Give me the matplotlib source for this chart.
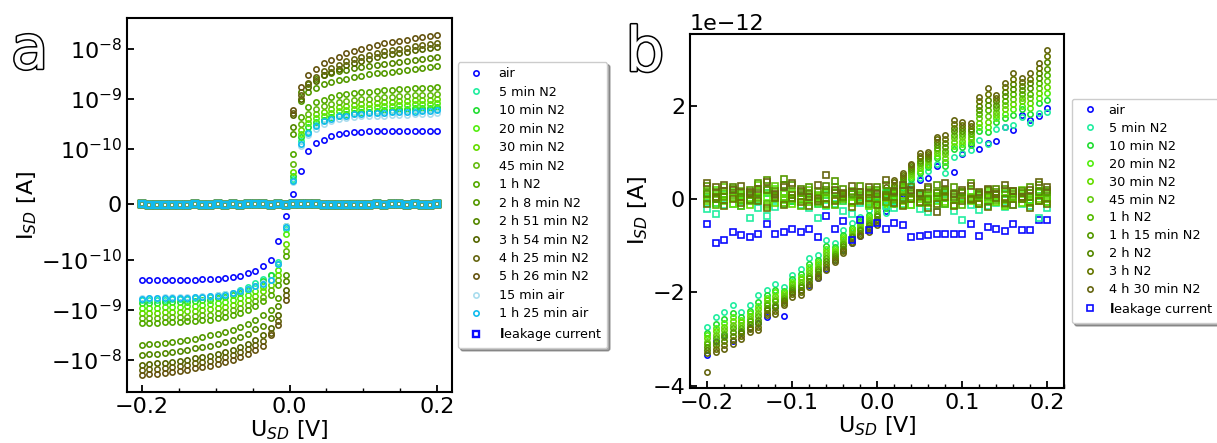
import numpy as np
import matplotlib
matplotlib.use("Agg")
import matplotlib.pyplot as plt
from matplotlib.ticker import AutoMinorLocator, MultipleLocator
import matplotlib.patheffects as pe

# ---------------- panel a : log-ish I-V, values in 1e-10 A ----------------
u_a = np.linspace(-0.2, 0.2, 40)

labels_a = ["air", "5 min N2", "10 min N2", "20 min N2", "30 min N2", "45 min N2", "1 h N2",
            "2 h 8 min N2", "2 h 51 min N2", "3 h 54 min N2", "4 h 25 min N2", "5 h 26 min N2",
            "15 min air", "1 h 25 min air"]
colors_a = ["#0a0aff", "#22eea0", "#22dd33", "#55ee11", "#66dd00", "#66bb11", "#55aa00",
            "#559900", "#558800", "#556600", "#666611", "#665511", "#aaddee", "#11bbee"]

air_a = [-2.5, -2.58, -2.58, -2.58, -2.55, -2.55, -2.5, -2.5, -2.47, -2.43, -2.39, -2.32, -2.22, -2.08, -1.89, -1.65, -1.35, -1.02, -0.66, -0.22,
         0.19, 0.59, 0.95, 1.28, 1.52, 1.77, 1.92, 2.08, 2.14, 2.2, 2.23, 2.27, 2.27, 2.28, 2.28, 2.29, 2.29, 2.3, 2.3, 2.3]
n2_5min_a = [-6.5, -6.45, -6.4, -6.3, -6.25, -6.2, -6.05, -5.85, -5.7, -5.5, -5.2, -4.9, -4.55, -4.0, -3.5, -3.0, -2.4, -2.0, -1.1, -0.45,
             0.45, 1.4, 2.2, 3.0, 3.8, 4.3, 4.7, 4.9, 5.2, 5.3, 5.5, 5.5, 5.6, 5.7, 5.8, 5.8, 5.9, 6.0, 6.1, 6.2]
n2_10min_a = [-7.4, -7.3, -7.25, -7.2, -7.1, -7.0, -6.9, -6.65, -6.5, -6.3, -5.9, -5.55, -5.2, -4.6, -4.0, -3.4, -2.7, -2.0, -1.25, -0.39,
              0.5, 1.7, 2.7, 3.35, 3.8, 4.3, 4.6, 4.9, 5.2, 5.4, 5.5, 5.7, 5.8, 6.0, 6.1, 6.2, 6.4, 6.5, 6.6, 6.7]
n2_20min_a = [-9.3, -9.2, -9.1, -9.0, -8.9, -8.8, -8.65, -8.4, -8.2, -7.9, -7.45, -7.0, -6.5, -5.8, -5.0, -4.3, -3.45, -2.5, -1.6, -0.54,
              0.42, 2.0, 3.2, 4.05, 4.6, 5.2, 5.6, 5.9, 6.2, 6.5, 6.6, 6.9, 7.0, 7.2, 7.4, 7.5, 7.7, 7.9, 7.95, 8.1]
n2_30min_a = [-11.7, -11.6, -11.5, -11.35, -11.2, -11.1, -10.9, -10.5, -10.3, -9.95, -9.35, -8.8, -8.2, -7.25, -6.3, -5.4, -4.3, -3.15, -2.0, -0.72,
              0.57, 2.4, 3.9, 4.85, 5.5, 6.2, 6.7, 7.1, 7.5, 7.8, 7.95, 8.2, 8.4, 8.6, 8.8, 9.0, 9.2, 9.4, 9.5, 9.7]
n2_45min_a = [-14.8, -14.6, -14.5, -14.35, -14.2, -14.1, -13.8, -13.3, -13.0, -12.6, -11.8, -11.1, -10.4, -9.2, -8.0, -6.8, -5.5, -4.0, -2.5, -0.85,
              0.73, 3.05, 4.9, 6.1, 7.0, 7.8, 8.4, 8.9, 9.4, 9.8, 10.0, 10.4, 10.6, 10.9, 11.1, 11.3, 11.6, 11.8, 12.0, 12.2]
n2_1h_a = [-18.6, -18.4, -18.2, -18.0, -17.9, -17.7, -17.3, -16.7, -16.4, -15.8, -14.9, -14.0, -13.0, -11.5, -10.0, -8.6, -6.8, -5.0, -3.15, -0.94,
           0.91, 4.2, 6.8, 8.5, 9.6, 10.8, 11.7, 12.3, 13.0, 13.5, 13.9, 14.4, 14.7, 15.0, 15.4, 15.7, 16.1, 16.4, 16.6, 16.9]
n2_2h8_a = [-51, -49.5, -48, -46, -44, -42, -40, -38, -35, -33, -30.5, -28, -25.5, -22.5, -19.5, -16, -13, -10, -5.9, -2.0,
            2.0, 9, 13.5, 16.7, 19.4, 21.6, 23.4, 25.2, 27, 28.8, 30.6, 32, 33.3, 34.7, 36, 37.8, 39.2, 41, 43, 45]
n2_2h51_a = [-81, -78.5, -76, -73, -70, -66.5, -63, -60, -56, -52.5, -48.5, -44.5, -40.5, -35.5, -30.5, -25, -21, -15, -8.5, -2.7,
             2.65, 13.6, 20, 25, 29.5, 32.6, 35.5, 38, 41, 43.5, 46, 48.3, 50.5, 52.5, 55, 57, 59, 62, 64.5, 68]
n2_3h54_a = [-128, -124, -120, -115, -110, -105, -100, -94.5, -88, -83, -77, -70, -64, -56, -48.5, -40, -33, -23, -13, -4.0,
             4.7, 9.7, 17, 22.7, 29.2, 33.5, 40, 46.4, 51.8, 57.2, 62.6, 68, 73.4, 78.8, 83.2, 87.5, 92.9, 97.2, 102.6, 108]
n2_4h25_a = [-162, -157, -152, -146, -139, -133, -126, -120, -112, -105, -97, -89, -81, -71, -61, -50, -42, -29, -17, -5.0,
             5.1, 11.7, 20.4, 27.3, 35.1, 40.3, 48.1, 55.9, 62.4, 68.9, 75.4, 81.9, 88.4, 94.9, 100, 105, 112, 117, 123.5, 130]
n2_5h26_a = [-204, -198, -192, -184, -175, -167, -159, -151, -141, -132, -122, -112, -102, -90, -77, -63, -53, -33, -20, -6.3,
             5.8, 17, 29.6, 40, 51, 59, 69, 81, 90, 99, 110, 119, 128, 138, 145, 152, 162, 170, 178, 188]
air_15min_a = [-5.8, -5.8, -5.75, -5.7, -5.7, -5.65, -5.6, -5.5, -5.4, -5.25, -5.1, -4.9, -4.6, -4.25, -3.8, -3.35, -3.0, -2.5, -1.2, -0.4,
               0.4, 1.15, 1.9, 2.5, 3.1, 3.5, 3.85, 4.05, 4.25, 4.4, 4.5, 4.55, 4.6, 4.7, 4.75, 4.8, 4.85, 4.95, 5.0, 5.1]
air_1h25_a = [-6.0, -5.95, -5.9, -5.9, -5.85, -5.8, -5.75, -5.7, -5.6, -5.4, -5.25, -5.0, -4.65, -4.3, -3.86, -3.41, -3.07, -2.6, -1.25, -0.42,
              0.42, 1.25, 2.08, 2.78, 3.56, 4.0, 4.4, 4.6, 4.85, 5.0, 5.1, 5.15, 5.2, 5.3, 5.4, 5.45, 5.5, 5.6, 5.7, 5.8]

# leakage current, 1e-12 A (shows up as ~0 on the symlog axis)
leak_a = [-0.54, -0.93, -0.88, -0.7, -0.76, -0.81, -0.74, -0.54, -0.74, -0.71, -0.65, -0.71, -0.63, -0.82, -0.36, -0.65, -0.47, -0.88, -0.45, -0.66,
          -0.51, -0.65, -0.51, -0.56, -0.82, -0.78, -0.77, -0.74, -0.74, -0.74, -0.74, -0.54, -0.79, -0.59, -0.65, -0.68, -0.54, -0.66, -0.66, -0.44]

curves_a = [air_a, n2_5min_a, n2_10min_a, n2_20min_a, n2_30min_a, n2_45min_a, n2_1h_a,
            n2_2h8_a, n2_2h51_a, n2_3h54_a, n2_4h25_a, n2_5h26_a, air_15min_a, air_1h25_a]

# ---------------- panel b : linear I-V, values in 1e-12 A ----------------
u_b = np.linspace(-0.2, 0.2, 41)

labels_b = ["air", "5 min N2", "10 min N2", "20 min N2", "30 min N2", "45 min N2", "1 h N2",
            "1 h 15 min N2", "2 h N2", "3 h N2", "4 h 30 min N2"]
colors_b = ["#0a0aff", "#22eea0", "#22dd33", "#55ee11", "#66dd00", "#66cc11", "#55bb00",
            "#559900", "#558800", "#667700", "#666611"]

air_b = [-3.34, -3.04, -2.9, -3.04, -2.85, -2.75, -2.65, -2.52, -2.3, -2.5, -2.0, -1.95, -1.85, -1.69, -1.5, -1.3, -1.1, -0.95, -0.8, -0.6, -0.45,
         -0.25, -0.1, 0.1, 0.3, 0.4, 0.45, 0.7, 0.8, 0.59, 0.96, 1.18, 1.07, 1.2, 1.25, 1.55, 1.48, 1.8, 1.7, 1.77, 1.94]
n2_5min_b = [-2.74, -2.52, -2.41, -2.27, -2.41, -2.27, -2.06, -1.95, -1.81, -1.88, -1.63, -1.49, -1.27, -1.2, -0.88, -0.95, -0.66, -0.52, -0.38, -0.24, 0.05,
             -0.3, -0.05, 0.15, 0.35, 0.45, 0.6, 0.75, 0.55, 0.91, 0.98, 1.05, 1.26, 1.19, 1.51, 1.55, 1.59, 1.75, 1.62, 1.85, 1.87]
n2_10min_b = [-2.86, -2.67, -2.57, -2.44, -2.53, -2.39, -2.21, -2.06, -1.94, -1.96, -1.72, -1.6, -1.39, -1.3, -1.01, -1.03, -0.76, -0.61, -0.46, -0.33, -0.07,
              -0.19, 0.04, 0.23, 0.43, 0.56, 0.68, 0.87, 0.71, 1.07, 1.12, 1.16, 1.45, 1.43, 1.65, 1.74, 1.81, 1.92, 1.83, 2.06, 2.13]
n2_20min_b = [-2.92, -2.75, -2.65, -2.52, -2.58, -2.44, -2.28, -2.11, -2.0, -2.0, -1.77, -1.66, -1.45, -1.35, -1.07, -1.07, -0.81, -0.65, -0.51, -0.38, -0.13,
              -0.13, 0.09, 0.27, 0.47, 0.61, 0.72, 0.93, 0.8, 1.14, 1.18, 1.22, 1.54, 1.54, 1.73, 1.83, 1.92, 2.0, 1.94, 2.17, 2.27]
n2_30min_b = [-2.98, -2.82, -2.73, -2.6, -2.64, -2.5, -2.36, -2.17, -2.07, -2.04, -1.81, -1.71, -1.51, -1.4, -1.14, -1.11, -0.86, -0.69, -0.55, -0.42, -0.19,
              -0.08, 0.13, 0.31, 0.51, 0.66, 0.76, 0.99, 0.88, 1.22, 1.25, 1.28, 1.63, 1.66, 1.8, 1.92, 2.03, 2.09, 2.05, 2.27, 2.4]
n2_45min_b = [-3.05, -2.9, -2.81, -2.69, -2.7, -2.56, -2.43, -2.22, -2.13, -2.08, -1.86, -1.77, -1.58, -1.45, -1.2, -1.15, -0.91, -0.74, -0.59, -0.47, -0.25,
              -0.02, 0.18, 0.35, 0.56, 0.72, 0.81, 1.05, 0.96, 1.3, 1.32, 1.34, 1.73, 1.78, 1.87, 2.02, 2.14, 2.17, 2.16, 2.38, 2.53]
n2_1h_b = [-3.11, -2.97, -2.88, -2.77, -2.76, -2.62, -2.5, -2.27, -2.19, -2.11, -1.91, -1.83, -1.64, -1.5, -1.26, -1.18, -0.96, -0.78, -0.63, -0.52, -0.31,
           0.04, 0.22, 0.39, 0.6, 0.77, 0.85, 1.1, 1.04, 1.38, 1.39, 1.39, 1.82, 1.9, 1.94, 2.11, 2.25, 2.25, 2.26, 2.49, 2.66]
n2_1h15_b = [-3.17, -3.05, -2.96, -2.85, -2.82, -2.68, -2.58, -2.33, -2.26, -2.15, -1.95, -1.88, -1.7, -1.55, -1.33, -1.22, -1.01, -0.82, -0.67, -0.56, -0.37,
             0.09, 0.27, 0.43, 0.64, 0.82, 0.89, 1.16, 1.12, 1.46, 1.46, 1.45, 1.91, 2.02, 2.01, 2.2, 2.36, 2.34, 2.37, 2.59, 2.79]
n2_2h_b = [-3.23, -3.12, -3.04, -2.93, -2.87, -2.73, -2.65, -2.38, -2.32, -2.19, -2.0, -1.94, -1.76, -1.6, -1.39, -1.26, -1.06, -0.86, -0.72, -0.61, -0.43,
           0.15, 0.31, 0.47, 0.68, 0.87, 0.93, 1.22, 1.21, 1.53, 1.52, 1.51, 2.0, 2.13, 2.09, 2.29, 2.47, 2.42, 2.48, 2.7, 2.93]
n2_3h_b = [-3.29, -3.2, -3.12, -3.02, -2.93, -2.79, -2.73, -2.44, -2.39, -2.23, -2.04, -1.99, -1.82, -1.65, -1.46, -1.3, -1.11, -0.91, -0.76, -0.65, -0.49,
           0.2, 0.36, 0.51, 0.72, 0.93, 0.97, 1.28, 1.29, 1.61, 1.59, 1.56, 2.1, 2.25, 2.16, 2.39, 2.58, 2.51, 2.58, 2.8, 3.06]
n2_4h30_b = [-3.7, -3.27, -3.2, -3.1, -2.99, -2.85, -2.8, -2.49, -2.45, -2.27, -2.09, -2.05, -1.88, -1.7, -1.52, -1.34, -1.16, -0.95, -0.8, -0.7, -0.55,
             0.26, 0.4, 0.55, 0.76, 0.98, 1.01, 1.34, 1.37, 1.69, 1.66, 1.62, 2.19, 2.37, 2.23, 2.48, 2.69, 2.59, 2.69, 2.91, 3.19]

# leakage current for each run, 1e-12 A
air_leak_b = [-0.54, -0.93, -0.88, -0.7, -0.76, -0.81, -0.74, -0.54, -0.74, -0.71, -0.65, -0.71, -0.63, -0.82, -0.36, -0.65, -0.47, -0.88, -0.45, -0.66, -0.51,
              -0.65, -0.51, -0.56, -0.82, -0.78, -0.77, -0.74, -0.74, -0.74, -0.74, -0.54, -0.79, -0.59, -0.65, -0.68, -0.54, -0.66, -0.66, -0.44, -0.44]
n2_5min_leak_b = [-0.22, -0.31, -0.12, -0.1, -0.15, -0.41, -0.2, -0.36, -0.18, -0.1, -0.05, -0.12, -0.2, -0.41, -0.15, -0.1, -0.25, -0.32, -0.08, -0.12, -0.05,
                  -0.15, -0.2, -0.1, -0.12, -0.22, -0.27, -0.15, -0.1, -0.25, -0.45, -0.12, -0.24, -0.15, -0.08, -0.18, -0.12, -0.1, -0.15, -0.41, -0.2]
n2_10min_leak_b = [0.05, -0.08, 0.1, 0.02, -0.05, 0.08, -0.02, 0.12, 0.0, 0.15, -0.05, 0.06, 0.02, -0.1, 0.08, 0.0, -0.04, 0.1, 0.05, -0.06, 0.04,
                   0.12, -0.02, 0.06, 0.0, 0.08, -0.05, 0.02, 0.1, -0.03, 0.05, 0.0, 0.08, -0.06, 0.03, 0.1, 0.0, 0.05, -0.02, 0.07, 0.02]
n2_20min_leak_b = [0.12, 0.2, -0.05, 0.15, 0.08, 0.02, 0.18, 0.05, 0.22, -0.02, 0.1, 0.15, 0.0, 0.06, 0.12, 0.18, 0.02, -0.06, 0.12, 0.08, 0.16,
                   0.05, 0.1, 0.2, 0.02, 0.12, 0.06, -0.04, 0.15, 0.1, 0.0, 0.18, 0.05, 0.12, 0.08, 0.02, 0.15, 0.1, 0.05, 0.12, 0.16]
n2_30min_leak_b = [-0.05, 0.02, 0.06, -0.1, 0.0, -0.12, 0.05, -0.15, -0.08, 0.02, -0.1, 0.0, -0.06, 0.04, -0.12, -0.02, 0.06, -0.08, 0.0, -0.15, -0.05,
                   0.02, -0.1, -0.04, -0.12, 0.0, -0.08, 0.05, -0.06, -0.12, 0.02, -0.05, -0.1, 0.0, -0.06, -0.14, 0.02, -0.08, -0.04, 0.0, -0.06]
n2_45min_leak_b = [0.2, 0.1, 0.25, 0.05, 0.18, 0.12, 0.3, 0.22, 0.28, 0.1, 0.15, 0.05, 0.2, 0.08, 0.15, 0.25, 0.1, 0.18, 0.06, 0.2, 0.12,
                   0.08, 0.18, 0.22, 0.1, 0.05, 0.16, 0.12, 0.2, 0.08, 0.15, 0.04, 0.12, 0.18, 0.1, 0.15, 0.06, 0.2, 0.12, 0.18, 0.1]
n2_1h_leak_b = [0.0, -0.12, -0.02, 0.08, -0.15, -0.05, 0.02, -0.1, 0.05, -0.08, 0.0, -0.14, 0.04, -0.06, 0.02, -0.12, 0.0, -0.04, 0.08, -0.1, 0.02,
                -0.06, 0.0, -0.12, 0.04, -0.08, -0.02, 0.06, -0.1, 0.0, -0.12, 0.02, -0.06, 0.04, -0.02, -0.1, 0.05, 0.0, -0.08, -0.05, 0.0]
n2_1h15_leak_b = [0.28, 0.15, 0.05, 0.22, 0.12, 0.2, 0.35, 0.4, 0.18, 0.42, 0.3, 0.12, 0.25, 0.15, 0.2, 0.38, 0.22, 0.1, 0.28, 0.15, 0.2,
                  0.3, 0.12, 0.18, 0.25, 0.1, 0.22, 0.3, 0.15, 0.25, 0.12, 0.35, 0.08, 0.2, 0.15, 0.22, 0.1, 0.18, 0.25, 0.3, 0.15]
n2_2h_leak_b = [0.1, 0.0, 0.18, 0.25, 0.05, -0.02, 0.12, 0.2, 0.08, 0.3, 0.02, 0.22, 0.1, -0.05, 0.28, 0.12, 0.05, 0.15, -0.02, 0.1, 0.25,
                0.08, 0.15, 0.02, 0.18, 0.1, 0.0, 0.12, 0.2, 0.05, 0.15, -0.02, 0.1, 0.08, 0.22, 0.0, 0.18, 0.12, 0.05, 0.15, 0.2]
n2_3h_leak_b = [-0.1, 0.05, -0.15, 0.0, -0.08, 0.1, -0.05, -0.2, 0.02, -0.12, 0.08, -0.06, -0.15, 0.0, -0.1, -0.05, 0.1, -0.18, -0.04, 0.02, -0.12,
                0.05, -0.08, -0.15, 0.0, -0.06, -0.2, -0.1, 0.04, -0.15, -0.05, 0.0, -0.1, -0.18, 0.02, -0.08, -0.12, 0.0, -0.2, -0.05, -0.1]
n2_4h30_leak_b = [0.34, 0.25, 0.3, 0.2, 0.28, 0.15, 0.22, 0.37, 0.1, 0.25, 0.35, 0.18, 0.05, 0.3, 0.51, 0.2, 0.12, 0.28, 0.15, 0.25, 0.1,
                  0.4, 0.18, 0.3, 0.2, 0.12, 0.25, -0.27, 0.35, 0.1, 0.2, 0.28, 0.15, 0.22, 0.1, 0.3, 0.18, 0.05, 0.2, 0.37, 0.25]

curves_b = [air_b, n2_5min_b, n2_10min_b, n2_20min_b, n2_30min_b, n2_45min_b, n2_1h_b,
            n2_1h15_b, n2_2h_b, n2_3h_b, n2_4h30_b]
leaks_b = [air_leak_b, n2_5min_leak_b, n2_10min_leak_b, n2_20min_leak_b, n2_30min_leak_b, n2_45min_leak_b,
           n2_1h_leak_b, n2_1h15_leak_b, n2_2h_leak_b, n2_3h_leak_b, n2_4h30_leak_b]

LEAK_LABEL = r"$\mathbf{l}$eakage current"

plt.rcParams["font.size"] = 16
plt.rcParams["axes.linewidth"] = 1.5

fig = plt.figure(figsize=(12.17, 4.43), dpi=100)
ax1 = fig.add_axes([0.1044, 0.1151, 0.267, 0.8442])
ax2 = fig.add_axes([0.567, 0.1242, 0.3073, 0.799])

marker_kw = dict(linestyle="none", markerfacecolor="none", markersize=3.8, markeredgewidth=1.2)

# panel a
for vals, lab, col in zip(curves_a, labels_a, colors_a):
  ax1.plot(u_a, np.array(vals) * 1e-10, "o", color=col, label=lab, **marker_kw)
for i, col in enumerate(colors_a):
  ax1.plot(u_a, np.array(leak_a) * 1e-12, "s", color=col, linestyle="none",
           markerfacecolor="none", markersize=3.7, markeredgewidth=1.7,
           label=LEAK_LABEL if i == 0 else None)

ax1.set_yscale("symlog", linthresh=1e-10)
ax1.set_ylabel(r"I$_{SD}$ [A]", labelpad=2)
ax1.set_xlabel(r"U$_{SD}$ [V]", labelpad=1)
ax1.xaxis.set_major_locator(MultipleLocator(0.2))
ax1.xaxis.set_minor_locator(AutoMinorLocator())
ax1.legend(loc="center left", bbox_to_anchor=(1.0, 0.5), fontsize=9.2, numpoints=1,
           shadow=True, labelspacing=0.43, borderaxespad=0.45)

# panel b
for vals, lab, col in zip(curves_b, labels_b, colors_b):
  ax2.plot(u_b, np.array(vals) * 1e-12, "o", color=col, label=lab, **marker_kw)
for i, (vals, col) in enumerate(zip(leaks_b, colors_b)):
  ax2.plot(u_b, np.array(vals) * 1e-12, "s", color=col,
           label=LEAK_LABEL if i == 0 else None, **marker_kw)

ax2.set_ylabel(r"I$_{SD}$ [A]", labelpad=2)
ax2.set_xlabel(r"U$_{SD}$ [V]", labelpad=1)
ax2.yaxis.set_major_locator(MultipleLocator(2e-12))
ax2.xaxis.set_minor_locator(AutoMinorLocator())
ax2.legend(loc="center left", bbox_to_anchor=(1.0, 0.5), fontsize=9.3, numpoints=1,
           shadow=True, labelspacing=0.38, borderaxespad=0.6, handletextpad=0.45)

for ax in (ax1, ax2):
  ax.tick_params(which="major", direction="in", length=5, width=1.3)
  ax.tick_params(which="minor", direction="in", length=3, width=1.0)

# outlined panel letters
outline = [pe.withStroke(linewidth=2.2, foreground="black")]
fig.text(0.009, 0.845, "a", fontsize=44, color="white", path_effects=outline)
fig.text(0.514, 0.84, "b", fontsize=44, color="white", path_effects=outline)

fig.savefig("out.png", dpi=100)
